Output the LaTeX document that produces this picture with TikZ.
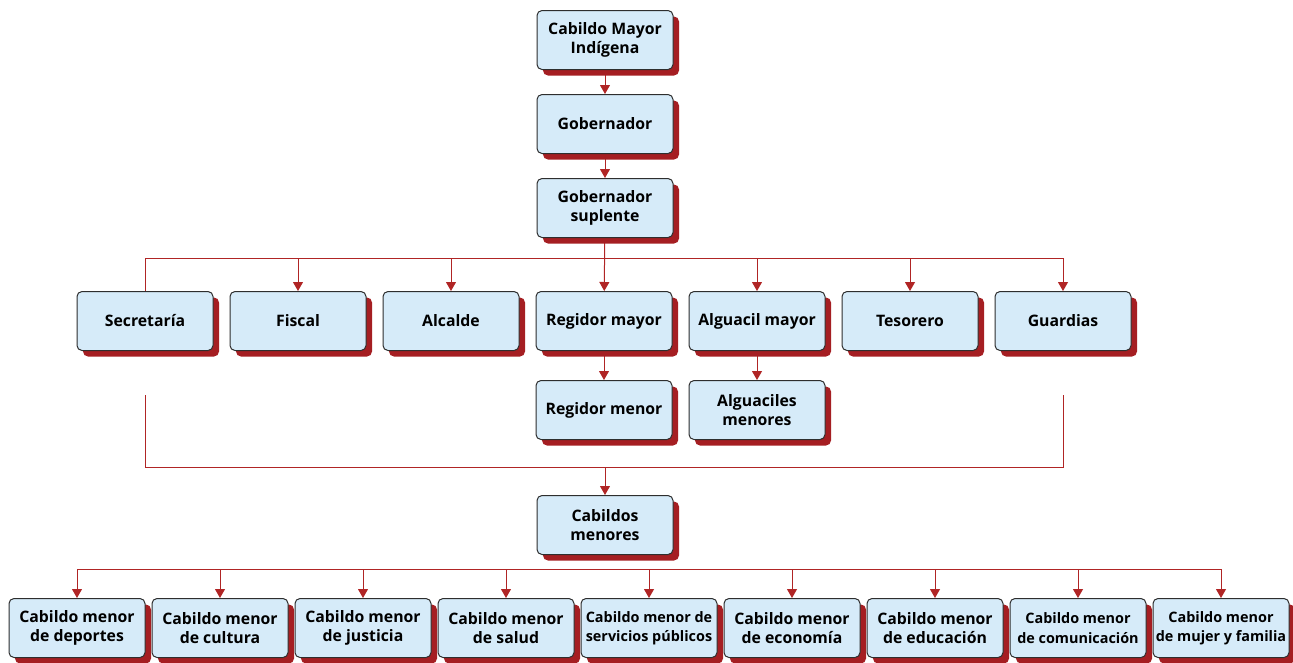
\documentclass[tikz,border=0pt]{standalone}
\usepackage{fontspec}
\setmainfont{Open Sans}
\usetikzlibrary{positioning,shadows,arrows.meta,backgrounds}

\definecolor{boxblue}{HTML}{D6EBF9}
\definecolor{shadowred}{HTML}{A51E22}
\definecolor{linered}{HTML}{B02525}
\definecolor{boxline}{HTML}{2E2E2E}

\tikzset{
  unit/.style={draw=boxline, line width=1pt, fill=boxblue, rounded corners=5pt,
    minimum width=136pt, minimum height=59pt, inner sep=1pt, align=center,
    font=\bfseries\fontsize{15.8}{19.5}\selectfont,
    drop shadow={shadow xshift=6pt, shadow yshift=-6pt, fill=shadowred, opacity=1}},
  tight/.style={unit, font=\bfseries\fontsize{14.4}{19.5}\selectfont},
  link/.style={draw=linered, line width=1pt},
  arr/.style={link, -{Triangle[width=10pt,length=9pt]}},
}

\begin{document}
\begin{tikzpicture}[x=1pt,y=-1pt]
  \useasboundingbox (0,0) rectangle (1293,662);

  % top of the chart
  \node[unit] (cmi) at (605,40) {Cabildo Mayor\\Indígena};
  \node[unit, below=24pt of cmi] (gob) {Gobernador};
  \node[unit, below=24pt of gob] (sup) {Gobernador\\suplente};

  % officers
  \node[unit] (sec) at (145,321) {Secretaría};
  \node[unit, right=16pt of sec] (fis) {Fiscal};
  \node[unit, right=16pt of fis] (alc) {Alcalde};
  \node[unit, right=16pt of alc] (reg) {Regidor mayor};
  \node[unit, right=16pt of reg] (alg) {Alguacil mayor};
  \node[unit, right=16pt of alg] (tes) {Tesorero};
  \node[unit, right=16pt of tes] (grd) {Guardias};

  \node[unit, below=29pt of reg] (rme) {Regidor menor};
  \node[unit, below=29pt of alg] (ame) {Alguaciles\\menores};

  \node[unit] (cme) at (605,525) {Cabildos\\menores};

  % cabildos menores
  \node[unit] (m1) at (77,628) {Cabildo menor\\de deportes};
  \node[unit, right=6pt of m1] (m2) {Cabildo menor\\de cultura};
  \node[unit, right=6pt of m2] (m3) {Cabildo menor\\de justicia};
  \node[unit, right=6pt of m3] (m4) {Cabildo menor\\de salud};
  \node[tight, right=6pt of m4] (m5) {Cabildo menor de\\servicios públicos};
  \node[unit, right=6pt of m5] (m6) {Cabildo menor\\de economía};
  \node[unit, right=6pt of m6] (m7) {Cabildo menor\\de educación};
  \node[tight, right=6pt of m7] (m8) {Cabildo menor\\de comunicación};
  \node[tight, right=6pt of m8] (m9) {Cabildo menor\\de mujer y familia};

  \coordinate (bus) at (605,258);
  \coordinate (join) at (605,467);
  \coordinate (bus2) at (649,569);
  \coordinate (secl) at ([yshift=-44pt]sec.south);
  \coordinate (grdl) at ([yshift=-44pt]grd.south);

  \begin{scope}[on background layer]
    \draw[arr] (cmi) -- (gob);
    \draw[arr] (gob) -- (sup);
    \draw[arr] (sup) -- (reg);
    \draw[link] (sec.north) |- (grd.north |- bus);
    \foreach \n in {fis,alc,alg,tes,grd}
      \draw[arr] (\n.north |- bus) -- (\n.north);
    \draw[arr] (reg) -- (rme);
    \draw[arr] (alg.south -| ame) -- (ame);
    \draw[link] (secl) -- (secl |- join) -- (grdl |- join) -- (grdl);
    \draw[arr] (join) -- (cme);
    \draw[link] (m1.north |- bus2) -- (m9.north |- bus2);
    \foreach \n in {m1,m2,m3,m4,m5,m6,m7,m8,m9}
      \draw[arr] (\n.north |- bus2) -- (\n.north);
  \end{scope}
\end{tikzpicture}
\end{document}
